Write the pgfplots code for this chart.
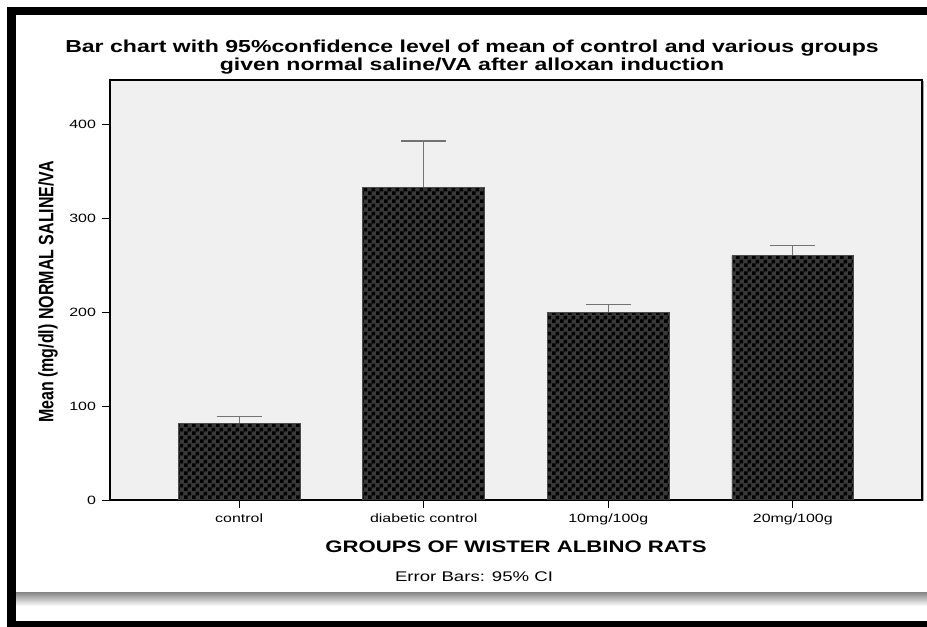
\documentclass[border=0pt]{standalone}
\usepackage{pgfplots}
\pgfplotsset{compat=1.18}
\usetikzlibrary{patterns}
\usepackage{fontspec}
\setmainfont[FakeStretch=1.33]{Liberation Sans}
\newfontfamily\plainfont{Liberation Sans}
\definecolor{bgc}{HTML}{F0F0F0}
\pgfdeclarepatternformonly{checker3}{\pgfqpoint{0pt}{0pt}}{\pgfqpoint{6pt}{6pt}}{\pgfqpoint{6pt}{6pt}}{%
  \pgfpathrectangle{\pgfqpoint{0pt}{0pt}}{\pgfqpoint{3pt}{3pt}}%
  \pgfpathrectangle{\pgfqpoint{3pt}{3pt}}{\pgfqpoint{3pt}{3pt}}%
  \pgfusepath{fill}}
\begin{document}
\begin{tikzpicture}
\begin{scope}[x=0.75pt,y=-0.75pt,yshift=470.25pt]
 \fill[white] (-5,-5) rectangle (960,640);
 \fill[black] (8,7) rectangle (960,15);
 \fill[black] (7,7) rectangle (16,640);
 \fill[black] (7,621) rectangle (960,640);
 \shade[top color=black!45, bottom color=white] (16,593) rectangle (960,606);
 \node[font=\bfseries\fontsize{13}{13.5}\selectfont, align=center] at (472,57) {Bar chart with 95\%confidence level of mean of control and various groups\\given normal saline/VA after alloxan induction};
 \node[font=\bfseries\fontsize{12.5}{14}\selectfont] at (516,547) {GROUPS OF WISTER ALBINO RATS};
 \node[font=\fontsize{10.5}{12}\selectfont] at (474,577) {Error Bars: 95\% CI};
 \node[rotate=90, font=\plainfont\bfseries\fontsize{12}{14}\selectfont] at (48,292) {\scalebox{1}[1.3]{Mean (mg/dl) NORMAL SALINE/VA}};
 \draw[black!35, line width=1.2pt] (923.5,81) -- (923.5,501);
\end{scope}
\begin{axis}[
  at={(82.5pt,95.25pt)}, anchor=south west,
  scale only axis, width=609pt, height=315pt,
  xmin=-0.7, xmax=3.7, ymin=0, ymax=447,
  axis background/.style={fill=bgc},
  xtick={0,1,2,3},
  xticklabels={control, diabetic control, 10mg/100g, 20mg/100g},
  ytick={0,100,200,300,400},
  tick pos=left, tick align=outside,
  major tick length=6pt,
  tick style={black, line width=0.6pt},
  axis line style={line width=0.8pt},
  ticklabel style={font=\fontsize{9}{10}\selectfont},
  /pgf/number format/assume math mode=true,
  xticklabel style={yshift=-1pt},
  yticklabel style={xshift=-1pt},
]
\addplot[draw=none, mark=none, forget plot,
  error bars/.cd, y dir=both, y explicit,
  error bar style={draw=black!55, line width=1pt},
  error mark options={rotate=90, mark size=17pt, draw=black!55, line width=1pt}]
  coordinates {(0,81) +- (0,8) (1,333) +- (0,49) (2,200) +- (0,8) (3,260) +- (0,11)};
\addplot[ybar, bar width=0.66, fill=black!78, draw=black!70, line width=0.6pt,
  postaction={pattern=checker3, pattern color=black}]
  coordinates {(0,81) (1,333) (2,200) (3,260)};
\end{axis}
\pgfresetboundingbox
\path[use as bounding box] (0pt,0pt) rectangle (695.25pt,470.25pt);
\end{tikzpicture}
\end{document}
